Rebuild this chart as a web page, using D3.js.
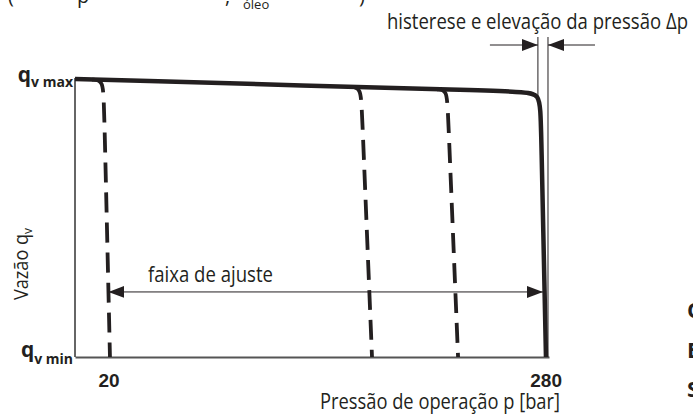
<!DOCTYPE html>
<html>
<head>
<meta charset="utf-8">
<script src="https://cdn.jsdelivr.net/npm/d3@7"></script>
<style>
  body { margin: 0; background: #fff; }
  svg { display: block; font-family: "Open Sans", sans-serif; }
</style>
</head>
<body>
<div id="chart"></div>
<script>
// pressure (bar) / flow (0 = qv min, 1 = qv max)
var pressureTicks = [20, 280];
var tickLabels = ["20", "280"];
var solidCurve = [[0, 1], [265, 0.955], [276.8, 0.952], [277.2, 0.85], [280.2, 0]];
var dashedCurves = [
    [[10.1, 0.998], [16.7, 0.996], [17.3, 0.917], [20.8, 0]],
    [[163.6, 0.972], [170.1, 0.970], [170.7, 0.888], [176.7, 0]],
    [[215.4, 0.963], [221.3, 0.962], [221.9, 0.881], [227.9, 0]]
];
var rangeArrow = {from: 19.9, to: 278.4, q: 0.234, label: "faixa de ajuste"};
var hysteresis = {p1: 275.4, p2: 281.4, label: "histerese e elevação da pressão Δp"};
var xTitle = "Pressão de operação p [bar]";
var yTitle = "Vazão q";

var width = 693, height = 419;
var ink = "#231f20";

var svg = d3.select("#chart").append("svg")
    .attr("width", width)
    .attr("height", height);

var x = d3.scaleLinear().domain([0, 282]).range([75, 549]);
var y = d3.scaleLinear().domain([0, 1]).range([357, 79]);

var defs = svg.append("defs");
defs.append("marker")
    .attr("id", "head")
    .attr("viewBox", "0 0 16 12")
    .attr("refX", 16).attr("refY", 6)
    .attr("markerWidth", 16).attr("markerHeight", 12)
    .attr("markerUnits", "userSpaceOnUse")
    .attr("orient", "auto-start-reverse")
  .append("path")
    .attr("d", "M0,0L16,6L0,12Z")
    .attr("fill", ink);

// axes
var xAxis = svg.append("g")
    .attr("transform", `translate(0, ${y(0)})`)
    .call(d3.axisBottom(x).tickValues(pressureTicks).tickSize(0).tickPadding(17)
        .tickFormat((d, i) => tickLabels[i]).tickSizeOuter(0));
xAxis.select(".domain").attr("stroke", "#555").attr("stroke-width", 1.8);
xAxis.selectAll("text")
    .attr("fill", ink)
    .style("font-size", "19px")
    .style("font-weight", "bold");

svg.append("line")
    .attr("x1", x(0)).attr("x2", x(0))
    .attr("y1", y(1) - 1).attr("y2", y(0))
    .attr("stroke", "#333").attr("stroke-width", 1.5);

// q labels
function qLabel(yy, sub, subDy) {
    var t = svg.append("text")
        .attr("x", 73).attr("y", yy)
        .attr("text-anchor", "end")
        .attr("fill", ink)
        .style("font-weight", "bold");
    t.append("tspan").text("q").style("font-size", "21px");
    t.append("tspan").text(sub).attr("dy", subDy).style("font-size", "14px");
}
qLabel(82, "v max", 5);
qLabel(357, "v min", 7);

// curves
var line = d3.line()
    .x(d => x(d[0]))
    .y(d => y(d[1]))
    .curve(d3.curveBasis);

svg.append("g").selectAll("path")
    .data(dashedCurves)
    .enter()
    .append("path")
    .attr("d", line)
    .attr("fill", "none")
    .attr("stroke", ink)
    .attr("stroke-width", 3.8)
    .attr("stroke-dasharray", "20 10");

// hysteresis marks
svg.append("line")
    .attr("x1", x(hysteresis.p1)).attr("x2", x(hysteresis.p1))
    .attr("y1", 37).attr("y2", 100)
    .attr("stroke", ink).attr("stroke-width", 1);
svg.append("line")
    .attr("x1", x(hysteresis.p2)).attr("x2", x(hysteresis.p2))
    .attr("y1", 37).attr("y2", y(0))
    .attr("stroke", ink).attr("stroke-width", 1);
svg.append("line")
    .attr("x1", x(hysteresis.p1) - 48).attr("x2", x(hysteresis.p1))
    .attr("y1", 45).attr("y2", 45)
    .attr("stroke", ink).attr("stroke-width", 1)
    .attr("marker-end", "url(#head)");
svg.append("line")
    .attr("x1", x(hysteresis.p2) + 47).attr("x2", x(hysteresis.p2))
    .attr("y1", 45).attr("y2", 45)
    .attr("stroke", ink).attr("stroke-width", 1)
    .attr("marker-end", "url(#head)");

svg.append("path")
    .datum(solidCurve)
    .attr("d", line)
    .attr("fill", "none")
    .attr("stroke", ink)
    .attr("stroke-width", 4.5);

// adjustment range arrow
svg.append("line")
    .attr("x1", x(rangeArrow.from)).attr("x2", x(rangeArrow.to))
    .attr("y1", y(rangeArrow.q)).attr("y2", y(rangeArrow.q))
    .attr("stroke", ink).attr("stroke-width", 1)
    .attr("marker-start", "url(#head)")
    .attr("marker-end", "url(#head)");

function label(tx, ty, len, size, s) {
    return svg.append("text")
        .attr("x", tx).attr("y", ty)
        .attr("fill", ink)
        .attr("textLength", len).attr("lengthAdjust", "spacingAndGlyphs")
        .style("font-size", size + "px")
        .text(s);
}
label(148, 282, 125, 21, rangeArrow.label);
label(387, 29, 301, 21, hysteresis.label);
label(320, 409, 240, 21, xTitle);

var yt = svg.append("text")
    .attr("transform", "translate(28, 300) rotate(-90)")
    .attr("fill", ink)
    .attr("textLength", 72).attr("lengthAdjust", "spacingAndGlyphs")
    .style("font-size", "20px");
yt.append("tspan").text(yTitle);
yt.append("tspan").text("v").attr("dy", 4).style("font-size", "13px");

// clipped caption at the top edge
var cap = svg.append("g").attr("fill", ink);
cap.append("text").attr("x", 8).attr("y", 3).style("font-size", "20px").text("(");
cap.append("text").attr("x", 77).attr("y", 3).style("font-size", "20px").text("p");
cap.append("text").attr("x", 225).attr("y", 3).style("font-size", "20px").text(",");
cap.append("text").attr("x", 243).attr("y", 9).style("font-size", "13px").text("óleo");
cap.append("text").attr("x", 359).attr("y", 3).style("font-size", "20px").text(")");

// clipped side text at the right edge
["C", "E", "S"].forEach(function(s, i) {
    svg.append("text")
        .attr("x", 687).attr("y", 318 + i * 39.5)
        .attr("fill", ink)
        .style("font-size", "22px")
        .style("font-weight", "bold")
        .text(s);
});
</script>
</body>
</html>
